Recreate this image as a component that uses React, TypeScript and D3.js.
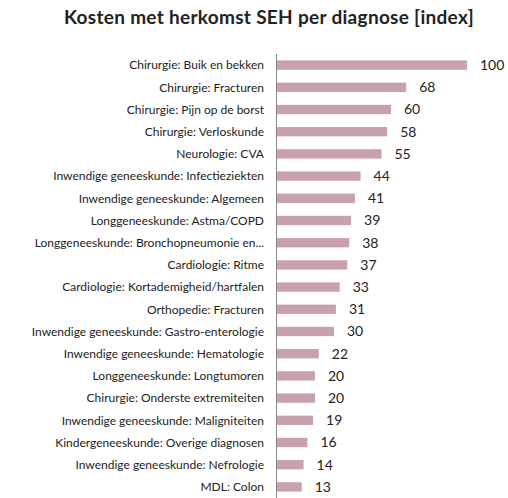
import React, { useEffect, useRef } from 'react';
import * as d3 from 'd3';

const diagnoses = [
  "Chirurgie: Buik en bekken",
  "Chirurgie: Fracturen",
  "Chirurgie: Pijn op de borst",
  "Chirurgie: Verloskunde",
  "Neurologie: CVA",
  "Inwendige geneeskunde: Infectieziekten",
  "Inwendige geneeskunde: Algemeen",
  "Longgeneeskunde: Astma/COPD",
  "Longgeneeskunde: Bronchopneumonie en...",
  "Cardiologie: Ritme",
  "Cardiologie: Kortademigheid/hartfalen",
  "Orthopedie: Fracturen",
  "Inwendige geneeskunde: Gastro-enterologie",
  "Inwendige geneeskunde: Hematologie",
  "Longgeneeskunde: Longtumoren",
  "Chirurgie: Onderste extremiteiten",
  "Inwendige geneeskunde: Maligniteiten",
  "Kindergeneeskunde: Overige diagnosen",
  "Inwendige geneeskunde: Nefrologie",
  "MDL: Colon",
];

const indexValues = [100, 68, 60, 58, 55, 44, 41, 39, 38, 37, 33, 31, 30, 22, 20, 20, 19, 16, 14, 13];

const chartTitle = "Kosten met herkomst SEH per diagnose [index]";

export default function App() {
  const svgRef = useRef<SVGSVGElement>(null);

  useEffect(() => {
    if (!svgRef.current) return;
    const width = 508;
    const height = 498;
    const axisX = 276;

    const svg = d3.select(svgRef.current)
      .attr("width", width)
      .attr("height", height);
    svg.selectAll("*").remove();

    const font = "Lato, 'Open Sans', sans-serif";

    svg.append("text")
      .attr("x", 269)
      .attr("y", 24)
      .attr("text-anchor", "middle")
      .attr("font-family", font)
      .attr("font-weight", "bold")
      .attr("font-size", "19px")
      .attr("letter-spacing", "0.3px")
      .attr("fill", "#222")
      .text(chartTitle);

    const x = d3.scaleLinear().domain([0, 100]).range([axisX + 1, axisX + 191]);
    const y = d3.scaleBand<string>().domain(diagnoses).range([54, 498]).paddingInner(0.58).paddingOuter(0.29);

    const rows = diagnoses.map((d, i) => ({ name: d, value: indexValues[i] }));

    svg.selectAll(".bar")
      .data(rows)
      .enter()
      .append("rect")
      .attr("class", "bar")
      .attr("x", x(0))
      .attr("y", (d) => y(d.name)!)
      .attr("width", (d) => x(d.value) - x(0))
      .attr("height", y.bandwidth())
      .attr("fill", "#C9A0AE");

    svg.selectAll(".cat")
      .data(rows)
      .enter()
      .append("text")
      .attr("class", "cat")
      .attr("x", axisX - 12)
      .attr("y", (d) => y(d.name)! + y.bandwidth() / 2)
      .attr("dy", "0.35em")
      .attr("text-anchor", "end")
      .attr("font-family", font)
      .attr("font-size", "12px")
      .attr("fill", "#222")
      .text((d) => d.name);

    svg.selectAll(".val")
      .data(rows)
      .enter()
      .append("text")
      .attr("class", "val")
      .attr("x", (d) => x(d.value) + 13)
      .attr("y", (d) => y(d.name)! + y.bandwidth() / 2)
      .attr("dy", "0.35em")
      .attr("font-family", font)
      .attr("font-size", "14px")
      .attr("fill", "#222")
      .text((d) => d.value);

    svg.append("line")
      .attr("x1", axisX + 0.5)
      .attr("x2", axisX + 0.5)
      .attr("y1", 54)
      .attr("y2", 498)
      .attr("stroke", "#888")
      .attr("stroke-width", 1);
  }, []);

  return (
    <div style={{ position: "absolute", left: 0, top: 0 }}>
      <svg ref={svgRef} style={{ display: "block", background: "#fff" }}></svg>
    </div>
  );
}
